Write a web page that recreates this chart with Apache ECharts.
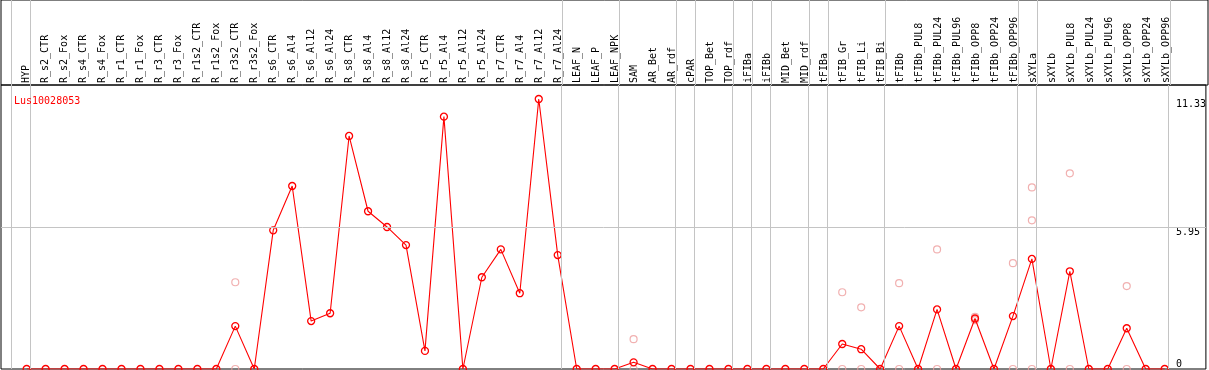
<!DOCTYPE html>
<html><head><meta charset="utf-8">
<script src="https://cdn.jsdelivr.net/npm/echarts@6/dist/echarts.min.js"></script>
<style>html,body{margin:0;padding:0;background:#fff}#c{width:1209px;height:370px}</style>
</head><body><div id="c"></div>
<script>
const chartTitle = 'Lus10028053';
const categories = ['HYP','R_s2_CTR','R_s2_Fox','R_s4_CTR','R_s4_Fox','R_r1_CTR','R_r1_Fox','R_r3_CTR','R_r3_Fox','R_r1s2_CTR','R_r1s2_Fox','R_r3s2_CTR','R_r3s2_Fox','R_s6_CTR','R_s6_Al4','R_s6_Al12','R_s6_Al24','R_s8_CTR','R_s8_Al4','R_s8_Al12','R_s8_Al24','R_r5_CTR','R_r5_Al4','R_r5_Al12','R_r5_Al24','R_r7_CTR','R_r7_Al4','R_r7_Al12','R_r7_Al24','LEAF_N','LEAF_P','LEAF_NPK','SAM','AR_Bet','AR_rdf','cPAR','TOP_Bet','TOP_rdf','iFIBa','iFIBb','MID_Bet','MID_rdf','tFIBa','tFIB_Gr','tFIB_Li','tFIB_Bi','tFIBb','tFIBb_PUL8','tFIBb_PUL24','tFIBb_PUL96','tFIBb_OPP8','tFIBb_OPP24','tFIBb_OPP96','sXYLa','sXYLb','sXYLb_PUL8','sXYLb_PUL24','sXYLb_PUL96','sXYLb_OPP8','sXYLb_OPP24','sXYLb_OPP96'];
const meanValues = [0,0,0,0,0,0,0,0,0,0,0,1.80,0,5.82,7.68,2.01,2.34,9.78,6.62,5.96,5.20,0.76,10.59,0,3.85,5.02,3.18,11.33,4.78,0,0,0,0.28,0,0,0,0,0,0,0,0,0,0,1.05,0.83,0,1.80,0,2.50,0,2.12,0,2.22,4.62,0,4.10,0,0,1.71,0,0];
const replicateCategories = ['R_r3s2_CTR','R_r3s2_CTR','SAM','SAM','tFIB_Gr','tFIB_Gr','tFIB_Li','tFIB_Li','tFIBb','tFIBb','tFIBb_PUL24','tFIBb_PUL24','tFIBb_OPP8','tFIBb_OPP8','tFIBb_OPP96','tFIBb_OPP96','sXYLa','sXYLa','sXYLa','sXYLb_PUL8','sXYLb_PUL8','sXYLb_OPP8','sXYLb_OPP8'];
const replicateValues = [3.64,0,1.25,0,3.22,0,2.59,0,3.60,0,5.02,0,2.19,2.05,4.44,0,7.62,6.24,0,8.21,0,3.48,0];
const separatorsAfter = ['HYP','R_r7_Al24','LEAF_NPK','AR_rdf','cPAR','TOP_rdf','iFIBa','iFIBb','MID_rdf','tFIBa','tFIB_Bi','tFIBb_OPP96','sXYLa','sXYLb_OPP96'];
const yTickValues = [0, 5.95, 11.33];
const yTickLabels = ['0', '5.95', '11.33'];

// layout constants
const X_MIN = -1.3526, X_MAX = 62.174, Y_MAX = 11.918, SEP_OFFSET = 0.21;
const mono = 'DejaVu Sans Mono';

const sepValues = [-1].concat(separatorsAfter.map(n => categories.indexOf(n))).map(i => i + SEP_OFFSET);
const sepStyle = {silent: true, symbol: 'none', animation: false, label: {show: false},
  lineStyle: {color: '#c4c4c4', width: 1, type: 'solid'}, emphasis: {disabled: true}};
const yLabelFmt = v => { const k = yTickValues.findIndex(t => Math.abs(t - v) < 1e-6); return k >= 0 ? yTickLabels[k] : ''; };

const chart = echarts.init(document.getElementById('c'), null, {renderer: 'canvas'});
chart.setOption({
  animation: false,
  backgroundColor: '#fff',
  title: {text: chartTitle, left: 9, top: 91, textStyle: {color: '#ff0000', fontFamily: mono, fontSize: 10, fontWeight: 'normal'}},
  grid: [
    {left: 1, right: 1, top: 0, height: 85, show: true, borderColor: '#000', borderWidth: 1},
    {left: 1, right: 1, top: 85, bottom: 1, show: true, borderColor: '#000', borderWidth: 1}
  ],
  xAxis: [
    {type: 'value', gridIndex: 0, min: X_MIN, max: X_MAX, position: 'bottom',
      axisLine: {show: false}, axisTick: {show: false}, splitLine: {show: false},
      axisLabel: {inside: true, rotate: 90, margin: 2, customValues: categories.map((c, i) => i),
        formatter: v => categories[Math.round(v)] || '', fontFamily: mono, fontSize: 10, color: '#000'}},
    {type: 'value', gridIndex: 1, min: X_MIN, max: X_MAX, show: false}
  ],
  yAxis: [
    {type: 'value', gridIndex: 0, min: 0, max: 1, show: false},
    {type: 'value', gridIndex: 1, min: 0, max: Y_MAX, position: 'right',
      axisLine: {show: false}, axisTick: {show: false}, splitLine: {show: false},
      axisLabel: {inside: true, align: 'left', verticalAlign: 'top', margin: 30,
        customValues: yTickValues.filter(v => v > 0), formatter: yLabelFmt,
        fontFamily: mono, fontSize: 10, color: '#000'}},
    {type: 'value', gridIndex: 1, min: 0, max: Y_MAX, position: 'right',
      axisLine: {show: false}, axisTick: {show: false}, splitLine: {show: false},
      axisLabel: {inside: true, align: 'left', verticalAlign: 'bottom', margin: 30,
        customValues: yTickValues.filter(v => v === 0), formatter: yLabelFmt,
        fontFamily: mono, fontSize: 10, color: '#000'}}
  ],
  series: [
    {type: 'line', xAxisIndex: 0, yAxisIndex: 0, data: [], silent: true, z: 1,
      markLine: Object.assign({}, sepStyle, {data: sepValues.map(v => ({xAxis: v}))})},
    {type: 'line', xAxisIndex: 1, yAxisIndex: 1, data: [], silent: true, z: 1,
      markLine: Object.assign({}, sepStyle, {data: sepValues.map(v => ({xAxis: v})).concat([{yAxis: yTickValues[1]}])})},
    {type: 'scatter', xAxisIndex: 1, yAxisIndex: 1, z: 2, silent: true,
      data: replicateCategories.map((c, k) => [categories.indexOf(c), replicateValues[k]]),
      symbol: 'circle', symbolSize: 7, itemStyle: {color: 'rgba(0,0,0,0)', borderColor: '#ee9c9c', borderWidth: 1.2}},
    {type: 'line', xAxisIndex: 1, yAxisIndex: 1, z: 3, silent: true,
      data: meanValues.map((v, i) => [i, v]),
      symbol: 'circle', symbolSize: 7, showAllSymbol: true,
      lineStyle: {color: '#ff0000', width: 1.1},
      itemStyle: {color: 'rgba(0,0,0,0)', borderColor: '#ff0000', borderWidth: 1.3}}
  ]
});
</script></body></html>
